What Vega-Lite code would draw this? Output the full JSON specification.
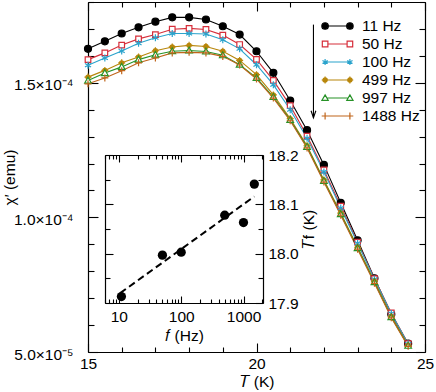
{
  "$schema": "https://vega.github.io/schema/vega-lite/v6.json",
  "width": 337,
  "height": 350,
  "autosize": "none",
  "padding": {"left": 88, "top": 2, "right": 11, "bottom": 40},
  "background": "white",
  "config": {
    "view": {"stroke": null},
    "axis": {"grid": false, "domainColor": "black", "domainWidth": 1.2, "tickColor": "black", "tickWidth": 1.1, "labelColor": "black", "titleColor": "black", "labelFont": "Liberation Sans", "titleFont": "Liberation Sans", "labelFontSize": 15.5, "titleFontSize": 15.5, "titleFontWeight": "normal", "labelFlush": false, "labelOverlap": false, "labelBound": false}
  },
  "datasets": {
    "chi": [
      {"T":15,"chi":1.626e-4,"f":"11 Hz"},{"T":15.5,"chi":1.654e-4,"f":"11 Hz"},{"T":16,"chi":1.683e-4,"f":"11 Hz"},{"T":16.5,"chi":1.706e-4,"f":"11 Hz"},{"T":17,"chi":1.727e-4,"f":"11 Hz"},{"T":17.5,"chi":1.743e-4,"f":"11 Hz"},{"T":18,"chi":1.743e-4,"f":"11 Hz"},{"T":18.5,"chi":1.735e-4,"f":"11 Hz"},{"T":19,"chi":1.710e-4,"f":"11 Hz"},{"T":19.5,"chi":1.679e-4,"f":"11 Hz"},{"T":20,"chi":1.617e-4,"f":"11 Hz"},{"T":20.5,"chi":1.537e-4,"f":"11 Hz"},{"T":21,"chi":1.434e-4,"f":"11 Hz"},{"T":21.5,"chi":1.324e-4,"f":"11 Hz"},{"T":22,"chi":1.195e-4,"f":"11 Hz"},{"T":22.5,"chi":1.054e-4,"f":"11 Hz"},{"T":23,"chi":9.15e-5,"f":"11 Hz"},{"T":23.5,"chi":7.74e-5,"f":"11 Hz"},{"T":24,"chi":6.40e-5,"f":"11 Hz"},{"T":24.5,"chi":5.31e-5,"f":"11 Hz"},
      {"T":15,"chi":1.586e-4,"f":"50 Hz"},{"T":15.5,"chi":1.611e-4,"f":"50 Hz"},{"T":16,"chi":1.640e-4,"f":"50 Hz"},{"T":16.5,"chi":1.663e-4,"f":"50 Hz"},{"T":17,"chi":1.679e-4,"f":"50 Hz"},{"T":17.5,"chi":1.699e-4,"f":"50 Hz"},{"T":18,"chi":1.702e-4,"f":"50 Hz"},{"T":18.5,"chi":1.698e-4,"f":"50 Hz"},{"T":19,"chi":1.677e-4,"f":"50 Hz"},{"T":19.5,"chi":1.642e-4,"f":"50 Hz"},{"T":20,"chi":1.587e-4,"f":"50 Hz"},{"T":20.5,"chi":1.509e-4,"f":"50 Hz"},{"T":21,"chi":1.415e-4,"f":"50 Hz"},{"T":21.5,"chi":1.302e-4,"f":"50 Hz"},{"T":22,"chi":1.176e-4,"f":"50 Hz"},{"T":22.5,"chi":1.042e-4,"f":"50 Hz"},{"T":23,"chi":9.08e-5,"f":"50 Hz"},{"T":23.5,"chi":7.72e-5,"f":"50 Hz"},{"T":24,"chi":6.45e-5,"f":"50 Hz"},{"T":24.5,"chi":5.31e-5,"f":"50 Hz"},
      {"T":15,"chi":1.565e-4,"f":"100 Hz"},{"T":15.5,"chi":1.592e-4,"f":"100 Hz"},{"T":16,"chi":1.618e-4,"f":"100 Hz"},{"T":16.5,"chi":1.647e-4,"f":"100 Hz"},{"T":17,"chi":1.667e-4,"f":"100 Hz"},{"T":17.5,"chi":1.683e-4,"f":"100 Hz"},{"T":18,"chi":1.683e-4,"f":"100 Hz"},{"T":18.5,"chi":1.681e-4,"f":"100 Hz"},{"T":19,"chi":1.660e-4,"f":"100 Hz"},{"T":19.5,"chi":1.626e-4,"f":"100 Hz"},{"T":20,"chi":1.567e-4,"f":"100 Hz"},{"T":20.5,"chi":1.493e-4,"f":"100 Hz"},{"T":21,"chi":1.400e-4,"f":"100 Hz"},{"T":21.5,"chi":1.294e-4,"f":"100 Hz"},{"T":22,"chi":1.169e-4,"f":"100 Hz"},{"T":22.5,"chi":1.035e-4,"f":"100 Hz"},{"T":23,"chi":9.04e-5,"f":"100 Hz"},{"T":23.5,"chi":7.70e-5,"f":"100 Hz"},{"T":24,"chi":6.43e-5,"f":"100 Hz"},{"T":24.5,"chi":5.30e-5,"f":"100 Hz"},
      {"T":15,"chi":1.521e-4,"f":"499 Hz"},{"T":15.5,"chi":1.546e-4,"f":"499 Hz"},{"T":16,"chi":1.574e-4,"f":"499 Hz"},{"T":16.5,"chi":1.596e-4,"f":"499 Hz"},{"T":17,"chi":1.619e-4,"f":"499 Hz"},{"T":17.5,"chi":1.633e-4,"f":"499 Hz"},{"T":18,"chi":1.639e-4,"f":"499 Hz"},{"T":18.5,"chi":1.635e-4,"f":"499 Hz"},{"T":19,"chi":1.617e-4,"f":"499 Hz"},{"T":19.5,"chi":1.583e-4,"f":"499 Hz"},{"T":20,"chi":1.530e-4,"f":"499 Hz"},{"T":20.5,"chi":1.455e-4,"f":"499 Hz"},{"T":21,"chi":1.367e-4,"f":"499 Hz"},{"T":21.5,"chi":1.266e-4,"f":"499 Hz"},{"T":22,"chi":1.139e-4,"f":"499 Hz"},{"T":22.5,"chi":1.016e-4,"f":"499 Hz"},{"T":23,"chi":8.89e-5,"f":"499 Hz"},{"T":23.5,"chi":7.63e-5,"f":"499 Hz"},{"T":24,"chi":6.32e-5,"f":"499 Hz"},{"T":24.5,"chi":5.24e-5,"f":"499 Hz"},
      {"T":15,"chi":1.508e-4,"f":"997 Hz"},{"T":15.5,"chi":1.536e-4,"f":"997 Hz"},{"T":16,"chi":1.559e-4,"f":"997 Hz"},{"T":16.5,"chi":1.586e-4,"f":"997 Hz"},{"T":17,"chi":1.604e-4,"f":"997 Hz"},{"T":17.5,"chi":1.617e-4,"f":"997 Hz"},{"T":18,"chi":1.620e-4,"f":"997 Hz"},{"T":18.5,"chi":1.616e-4,"f":"997 Hz"},{"T":19,"chi":1.602e-4,"f":"997 Hz"},{"T":19.5,"chi":1.567e-4,"f":"997 Hz"},{"T":20,"chi":1.518e-4,"f":"997 Hz"},{"T":20.5,"chi":1.447e-4,"f":"997 Hz"},{"T":21,"chi":1.362e-4,"f":"997 Hz"},{"T":21.5,"chi":1.262e-4,"f":"997 Hz"},{"T":22,"chi":1.135e-4,"f":"997 Hz"},{"T":22.5,"chi":1.012e-4,"f":"997 Hz"},{"T":23,"chi":8.86e-5,"f":"997 Hz"},{"T":23.5,"chi":7.59e-5,"f":"997 Hz"},{"T":24,"chi":6.29e-5,"f":"997 Hz"},{"T":24.5,"chi":5.23e-5,"f":"997 Hz"},
      {"T":15,"chi":1.496e-4,"f":"1488 Hz"},{"T":15.5,"chi":1.518e-4,"f":"1488 Hz"},{"T":16,"chi":1.545e-4,"f":"1488 Hz"},{"T":16.5,"chi":1.574e-4,"f":"1488 Hz"},{"T":17,"chi":1.592e-4,"f":"1488 Hz"},{"T":17.5,"chi":1.611e-4,"f":"1488 Hz"},{"T":18,"chi":1.613e-4,"f":"1488 Hz"},{"T":18.5,"chi":1.611e-4,"f":"1488 Hz"},{"T":19,"chi":1.598e-4,"f":"1488 Hz"},{"T":19.5,"chi":1.566e-4,"f":"1488 Hz"},{"T":20,"chi":1.514e-4,"f":"1488 Hz"},{"T":20.5,"chi":1.443e-4,"f":"1488 Hz"},{"T":21,"chi":1.359e-4,"f":"1488 Hz"},{"T":21.5,"chi":1.258e-4,"f":"1488 Hz"},{"T":22,"chi":1.131e-4,"f":"1488 Hz"},{"T":22.5,"chi":1.008e-4,"f":"1488 Hz"},{"T":23,"chi":8.82e-5,"f":"1488 Hz"},{"T":23.5,"chi":7.55e-5,"f":"1488 Hz"},{"T":24,"chi":6.27e-5,"f":"1488 Hz"},{"T":24.5,"chi":5.21e-5,"f":"1488 Hz"}
    ],
    "arrow": [{"T": 21.69, "y1": 1.716e-4, "y2": 1.370e-4}],
    "tf": [
      {"f": 11, "Tf": 17.913}, {"f": 50, "Tf": 17.997}, {"f": 100, "Tf": 18.003},
      {"f": 499, "Tf": 18.078}, {"f": 997, "Tf": 18.063}, {"f": 1488, "Tf": 18.141}
    ],
    "fit": [{"f": 10.5, "Tf": 17.92}, {"f": 1488, "Tf": 18.116}]
  },
  "layer": [
    {
      "layer": [
        {
          "data": {"name": "chi"},
          "mark": {"type": "line", "strokeWidth": 1.1},
          "encoding": {
            "x": {"field": "T", "type": "quantitative", "scale": {"domain": [15, 25], "nice": false, "zero": false},
              "axis": {"orient": "bottom", "values": [15,16,17,18,19,20,21,22,23,24,25],
                "labelExpr": "datum.value % 5 === 0 ? datum.label : ''",
                "tickSize": {"condition": {"test": "datum.value % 5 === 0", "value": -9}, "value": -5},
                "labelPadding": 13, "title": "𝑇 (K)", "titlePadding": -1}},
            "y": {"field": "chi", "type": "quantitative", "scale": {"domain": [0.00005, 0.00018], "nice": false, "zero": false},
              "axis": {"orient": "left", "values": [0.00005,0.00006,0.00007,0.00008,0.00009,0.0001,0.00011,0.00012,0.00013,0.00014,0.00015,0.00016,0.00017,0.00018],
                "labelExpr": "abs(datum.value-0.00005)<1e-9 ? '5.0×10⁻⁵' : abs(datum.value-0.0001)<1e-9 ? '1.0×10⁻⁴' : abs(datum.value-0.00015)<1e-9 ? '1.5×10⁻⁴' : ''",
                "tickSize": {"condition": {"test": "abs(datum.value/0.00005-round(datum.value/0.00005))<0.001", "value": -10}, "value": -6},
                "labelPadding": 25, "labelOffset": 2, "title": "χ′ (emu)", "titlePadding": -4}},
            "color": {"field": "f", "type": "nominal",
              "scale": {"domain": ["11 Hz","50 Hz","100 Hz","499 Hz","997 Hz","1488 Hz"], "range": ["#000000","#d62e3a","#2aa3cc","#b8860b","#279227","#c0651a"]},
              "legend": null}
          }
        },
        {
          "data": {"name": "chi"},
          "mark": {"type": "point", "filled": true, "strokeWidth": 1.2, "opacity": 1, "size": 49},
          "encoding": {
            "x": {"field": "T", "type": "quantitative", "axis": null},
            "y": {"field": "chi", "type": "quantitative", "axis": null},
            "shape": {"field": "f", "type": "nominal", "legend": null,
              "scale": {"domain": ["11 Hz","50 Hz","100 Hz","499 Hz","997 Hz","1488 Hz"],
                "range": ["circle", "M-0.8,-0.8H0.8V0.8H-0.8Z", "M0,-1V1M-0.87,-0.5L0.87,0.5M-0.87,0.5L0.87,-0.5", "M-1,0H1M0,-1V1M0.6,0A0.6,0.6 0 1 1 -0.6,0A0.6,0.6 0 1 1 0.6,0Z", "M0,-0.95L0.95,0.7H-0.95Z", "M-1,0H1M0,-1V1"]}},
            "fill": {"field": "f", "type": "nominal", "legend": null,
              "scale": {"domain": ["11 Hz","50 Hz","100 Hz","499 Hz","997 Hz","1488 Hz"], "range": ["#000000","white","white","#b8860b","white","#c0651a"]}},
            "stroke": {"field": "f", "type": "nominal", "legend": null,
              "scale": {"domain": ["11 Hz","50 Hz","100 Hz","499 Hz","997 Hz","1488 Hz"], "range": ["#000000","#d62e3a","#2aa3cc","#b8860b","#279227","#c0651a"]}}
          }
        },
        {
          "data": {"name": "chi"},
          "transform": [{"filter": "false"}],
          "mark": {"type": "point", "filled": true, "strokeWidth": 1.2},
          "encoding": {
            "x": {"field": "T", "type": "quantitative", "axis": null},
            "y": {"field": "chi", "type": "quantitative", "axis": null},
            "shape": {"field": "f", "type": "nominal",
              "scale": {"domain": ["11 Hz","50 Hz","100 Hz","499 Hz","997 Hz","1488 Hz"],
                "range": [
                  "M-0.59,0L0.59,0M-0.59,0A0.21,0.21 0 1 1 -1.01,0A0.21,0.21 0 1 1 -0.59,0ZM1.01,0A0.21,0.21 0 1 1 0.59,0A0.21,0.21 0 1 1 1.01,0Z",
                  "M-0.62,0L0.62,0M-0.98,-0.18H-0.62V0.18H-0.98ZM0.62,-0.18H0.98V0.18H0.62Z",
                  "M-0.8,0L0.8,0M-0.8,-0.2V0.2M-0.97,-0.1L-0.63,0.1M-0.97,0.1L-0.63,-0.1M0.8,-0.2V0.2M0.63,-0.1L0.97,0.1M0.63,0.1L0.97,-0.1",
                  "M-1.02,0L1.02,0M-0.8,-0.22V0.22M0.8,-0.22V0.22M-0.66,0A0.14,0.14 0 1 1 -0.94,0A0.14,0.14 0 1 1 -0.66,0ZM0.94,0A0.14,0.14 0 1 1 0.66,0A0.14,0.14 0 1 1 0.94,0Z",
                  "M-0.69,0L0.69,0M-0.8,-0.2L-0.6,0.15H-1.0ZM0.8,-0.2L1.0,0.15H0.6Z",
                  "M-1.02,0L1.02,0M-0.8,-0.22V0.22M0.8,-0.22V0.22"]},
              "legend": {"orient": "none", "legendX": 233, "legendY": 15, "title": null, "padding": 0, "offset": 0,
                "symbolSize": 961, "symbolStrokeWidth": 1.2, "symbolOpacity": 1, "clipHeight": 18, "rowPadding": 0, "labelOffset": 8, "symbolOffset": 0,
                "labelFont": "Liberation Sans", "labelFontSize": 15.5, "labelColor": "black"}},
            "fill": {"field": "f", "type": "nominal",
              "scale": {"domain": ["11 Hz","50 Hz","100 Hz","499 Hz","997 Hz","1488 Hz"], "range": ["#000000","white","white","#b8860b","white","#c0651a"]},
              "legend": {"orient": "none", "legendX": 233, "legendY": 15, "title": null, "padding": 0, "offset": 0,
                "symbolSize": 961, "symbolStrokeWidth": 1.2, "symbolOpacity": 1, "clipHeight": 18, "rowPadding": 0, "labelOffset": 8, "symbolOffset": 0,
                "labelFont": "Liberation Sans", "labelFontSize": 15.5, "labelColor": "black"}},
            "stroke": {"field": "f", "type": "nominal",
              "scale": {"domain": ["11 Hz","50 Hz","100 Hz","499 Hz","997 Hz","1488 Hz"], "range": ["#000000","#d62e3a","#2aa3cc","#b8860b","#279227","#c0651a"]},
              "legend": {"orient": "none", "legendX": 233, "legendY": 15, "title": null, "padding": 0, "offset": 0,
                "symbolSize": 961, "symbolStrokeWidth": 1.2, "symbolOpacity": 1, "clipHeight": 18, "rowPadding": 0, "labelOffset": 8, "symbolOffset": 0,
                "labelFont": "Liberation Sans", "labelFontSize": 15.5, "labelColor": "black"}}
          }
        },
        {
          "data": {"name": "arrow"},
          "mark": {"type": "rule", "strokeWidth": 1.1, "color": "black"},
          "encoding": {
            "x": {"field": "T", "type": "quantitative",
              "axis": {"orient": "top", "values": [15,16,17,18,19,20,21,22,23,24,25], "labels": false, "title": null,
                "tickSize": {"condition": {"test": "datum.value % 5 === 0", "value": -9}, "value": -5}}},
            "y": {"field": "y1", "type": "quantitative",
              "axis": {"orient": "right", "values": [0.00005,0.00006,0.00007,0.00008,0.00009,0.0001,0.00011,0.00012,0.00013,0.00014,0.00015,0.00016,0.00017,0.00018], "labels": false, "title": null,
                "tickSize": {"condition": {"test": "abs(datum.value/0.00005-round(datum.value/0.00005))<0.001", "value": -10}, "value": -6}}},
            "y2": {"field": "y2"}
          }
        },
        {
          "data": {"name": "arrow"},
          "mark": {"type": "point", "shape": "M-0.6,-1.75L0,0L0.6,-1.75", "size": 64, "filled": false, "stroke": "black", "strokeWidth": 1.1, "opacity": 1},
          "encoding": {
            "x": {"field": "T", "type": "quantitative", "axis": null},
            "y": {"field": "y2", "type": "quantitative", "axis": null}
          }
        }
      ],
      "resolve": {"scale": {"shape": "independent", "fill": "independent", "stroke": "independent"}}
    },
    {
      "layer": [
        {
          "data": {"name": "fit"},
          "mark": {"type": "line", "color": "black", "strokeWidth": 2, "strokeDash": [7, 4]},
          "encoding": {
            "x": {"field": "f", "type": "quantitative",
              "scale": {"type": "log", "domain": [6, 2050], "range": [17, 175], "nice": false},
              "axis": {"orient": "bottom", "offset": -49, "values": [6,7,8,9,10,20,30,40,50,60,70,80,90,100,200,300,400,500,600,700,800,900,1000,2000],
                "labelExpr": "(datum.value===10||datum.value===100||datum.value===1000) ? format(datum.value,'d') : ''",
                "tickSize": {"condition": {"test": "datum.value===10||datum.value===100||datum.value===1000", "value": -7}, "value": -4},
                "labelPadding": 13, "title": "𝑓 (Hz)", "titlePadding": 1}},
            "y": {"field": "Tf", "type": "quantitative",
              "scale": {"domain": [17.9, 18.2], "range": [301, 153], "nice": false, "zero": false},
              "axis": {"orient": "right", "offset": -162, "values": [17.9,17.95,18,18.05,18.1,18.15,18.2],
                "labelExpr": "abs(datum.value*10-round(datum.value*10))<0.001 ? format(datum.value,'.1f') : ''",
                "tickSize": {"condition": {"test": "abs(datum.value*10-round(datum.value*10))<0.001", "value": -8}, "value": -5},
                "labelPadding": 13, "title": "𝑇f (K)", "titleAngle": 270, "titleBaseline": "top", "titlePadding": 3}}
          }
        },
        {
          "data": {"name": "tf"},
          "mark": {"type": "point", "filled": true, "color": "black", "size": 86, "opacity": 1},
          "encoding": {
            "x": {"field": "f", "type": "quantitative",
              "axis": {"orient": "top", "offset": -153, "values": [6,7,8,9,10,20,30,40,50,60,70,80,90,100,200,300,400,500,600,700,800,900,1000,2000], "labels": false, "title": null,
                "tickSize": {"condition": {"test": "datum.value===10||datum.value===100||datum.value===1000", "value": -7}, "value": -4}}},
            "y": {"field": "Tf", "type": "quantitative",
              "axis": {"orient": "left", "offset": -17, "values": [17.9,17.95,18,18.05,18.1,18.15,18.2], "labels": false, "title": null,
                "tickSize": {"condition": {"test": "abs(datum.value*10-round(datum.value*10))<0.001", "value": -8}, "value": -5}}}
          }
        }
      ]
    }
  ],
  "resolve": {"scale": {"x": "independent", "y": "independent"}}
}
